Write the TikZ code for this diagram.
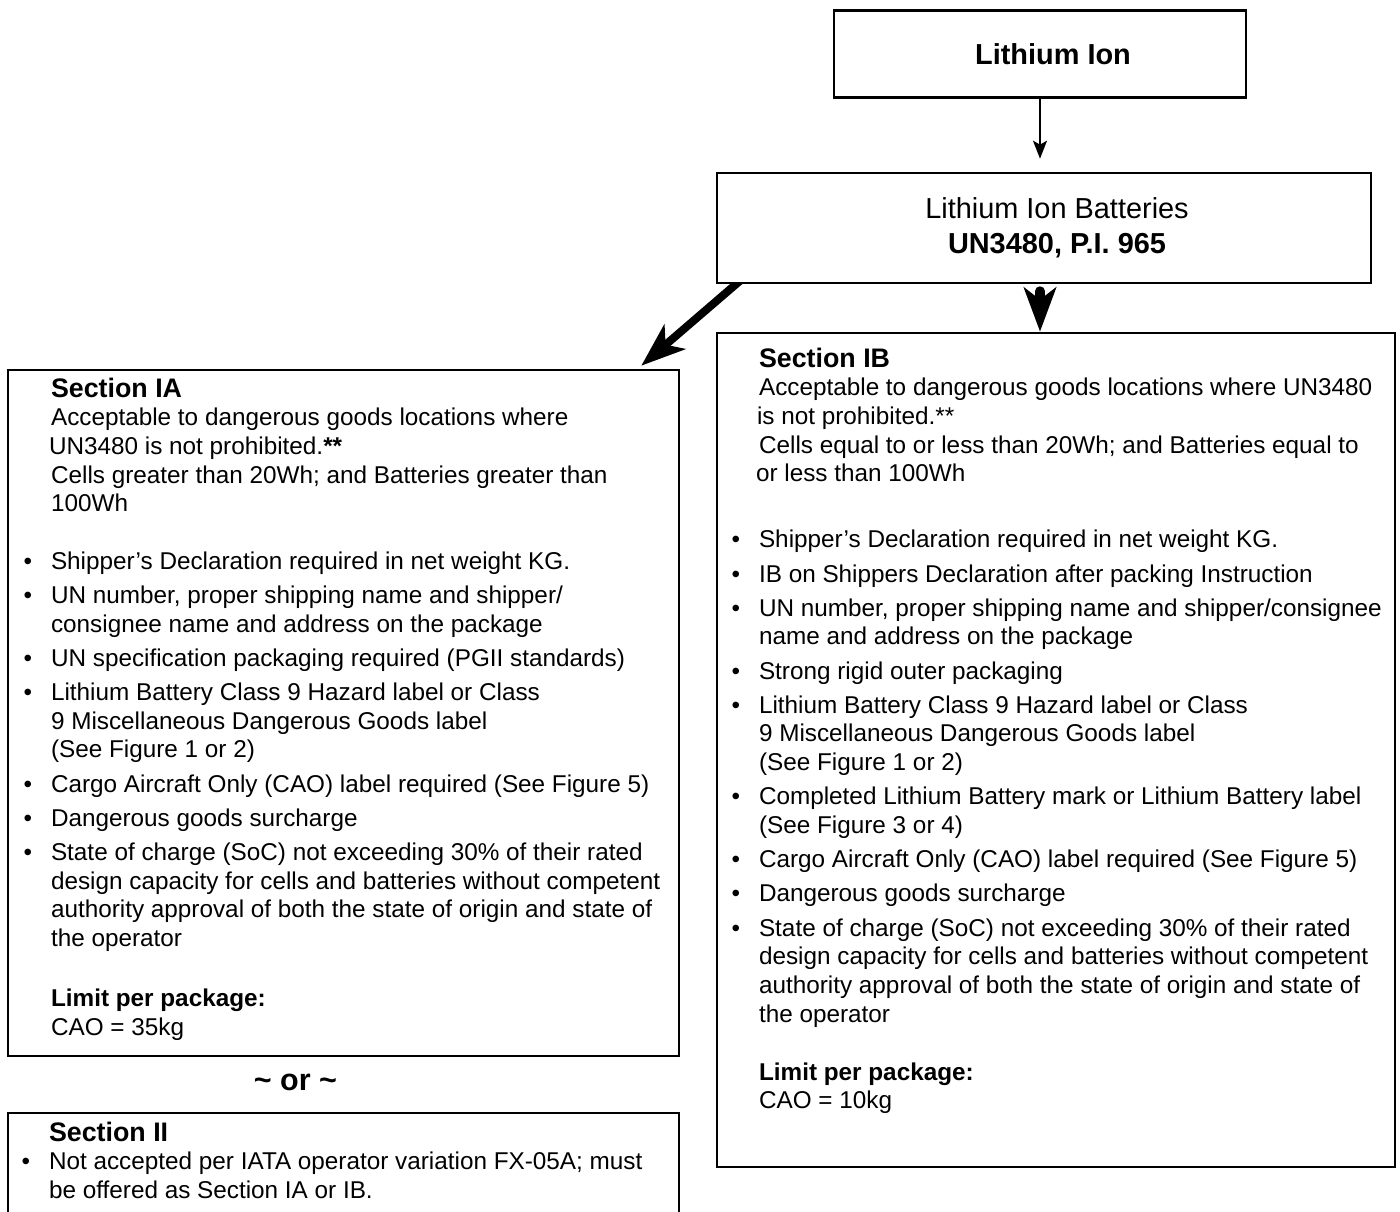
\documentclass[tikz,border=0pt]{standalone}
\usepackage{fontspec}
\setmainfont{Liberation Sans}
\usetikzlibrary{arrows.meta,positioning,backgrounds}

\newlength{\pxu}\setlength{\pxu}{0.02cm}
\newcommand{\bul}{\llap{\textbullet\hspace{19\pxu}}}
\newcommand{\sechead}[1]{{\fontsize{15.25}{16.33}\selectfont\bfseries #1}}

\begin{document}
\begin{tikzpicture}[
    %---- GLOBAL STYLE TWEAKS ----
    x=0.02cm, y=-0.02cm,                          % pixel grid, y downwards
    box/.style   = {draw=black, line width=2.6\pxu, fill=white, inner sep=0pt},
    title/.style = {font=\fontsize{16.45}{19.92}\selectfont, align=center, inner sep=0pt},
    body/.style  = {font=\fontsize{13.83}{16.33}\selectfont, align=left, inner sep=0pt},
    thinarrow/.style = {-{Stealth[length=0.36cm, width=0.28cm, inset=0.08cm]}, line width=2\pxu},
    fatarrow/.style  = {-{Stealth[length=0.88cm, width=0.64cm, inset=0.24cm]}, line width=10\pxu},
]
\useasboundingbox (0,0) rectangle (1400,1212);

%---- TOP BOXES ----
\node (ion)      [box, minimum width=412\pxu, minimum height=87\pxu] at (1040,54) {};
\node (ion-txt)  [title] at ([xshift=13\pxu]ion.center) {\bfseries Lithium Ion};

\node (batt)     [box, minimum width=654\pxu, minimum height=110\pxu] at (1044,228) {};
\node (batt-txt) [title] at ([xshift=13\pxu]batt.center) {Lithium Ion Batteries\\\textbf{UN3480, P.I. 965}};

%---- SECTION IA ----
\node (secia)    [box, minimum width=671\pxu, minimum height=686\pxu] at (343.5,713) {};
\node (secia-txt) [body, below right=4\pxu and 44\pxu of secia.north west] {%
  \rule{0pt}{24\pxu}\sechead{Section IA}\\
  Acceptable to dangerous goods locations where\\
  \hspace*{-2\pxu}UN3480 is not prohibited.\textbf{**}\\
  Cells greater than 20Wh; and Batteries greater than\\
  100Wh\\[28.8\pxu]
  \bul Shipper’s Declaration required in net weight KG.\\[5.5\pxu]
  \bul UN number, proper shipping name and shipper/\\
  consignee name and address on the package\\[5.5\pxu]
  \bul UN specification packaging required (PGII standards)\\[5.5\pxu]
  \bul Lithium Battery Class 9 Hazard label or Class\\
  9 Miscellaneous Dangerous Goods label\\
  (See Figure 1 or 2)\\[5.5\pxu]
  \bul Cargo Aircraft Only (CAO) label required (See Figure 5)\\[5.5\pxu]
  \bul Dangerous goods surcharge\\[5.5\pxu]
  \bul State of charge (SoC) not exceeding 30\% of their rated\\
  design capacity for cells and batteries without competent\\
  authority approval of both the state of origin and state of\\
  the operator\\[31.3\pxu]
  \textbf{Limit per package:}\\
  CAO = 35kg};

\node (or) [font=\fontsize{17.36}{20}\selectfont\bfseries, anchor=base] at (295.5,1090)
  {\textasciitilde{} or \textasciitilde};

%---- SECTION II ----
\node (secii)    [box, minimum width=671\pxu, minimum height=120\pxu] at (343.5,1173) {};
\node (secii-txt) [body, below right=5\pxu and 42\pxu of secii.north west] {%
  \rule{0pt}{24\pxu}\sechead{Section II}\\
  \bul Not accepted per IATA operator variation FX-05A; must\\
  be offered as Section IA or IB.};

%---- SECTION IB ----
\node (secib)    [box, minimum width=678\pxu, minimum height=834\pxu] at (1056,750) {};
\node (secib-txt) [body, below right=11\pxu and 43\pxu of secib.north west] {%
  \rule{0pt}{24\pxu}\sechead{Section IB}\\
  Acceptable to dangerous goods locations where UN3480\\
  \hspace*{-2\pxu}is not prohibited.**\\
  Cells equal to or less than 20Wh; and Batteries equal to\\
  \hspace*{-3\pxu}or less than 100Wh\\[37.3\pxu]
  \bul Shipper’s Declaration required in net weight KG.\\[5.5\pxu]
  \bul IB on Shippers Declaration after packing Instruction\\[5.5\pxu]
  \bul UN number, proper shipping name and shipper/consignee\\
  name and address on the package\\[5.5\pxu]
  \bul Strong rigid outer packaging\\[5.5\pxu]
  \bul Lithium Battery Class 9 Hazard label or Class\\
  9 Miscellaneous Dangerous Goods label\\
  (See Figure 1 or 2)\\[5.5\pxu]
  \bul Completed Lithium Battery mark or Lithium Battery label\\
  (See Figure 3 or 4)\\[5.5\pxu]
  \bul Cargo Aircraft Only (CAO) label required (See Figure 5)\\[5.5\pxu]
  \bul Dangerous goods surcharge\\[5.5\pxu]
  \bul State of charge (SoC) not exceeding 30\% of their rated\\
  design capacity for cells and batteries without competent\\
  authority approval of both the state of origin and state of\\
  the operator\\[29.3\pxu]
  \textbf{Limit per package:}\\
  CAO = 10kg};

%---- ARROWS ----
\begin{scope}[on background layer]
  \draw[thinarrow, shorten >=0.26cm] (ion) -- (ion |- batt.north);
  \draw[fatarrow, line cap=round, shorten <=0.14cm] (ion |- batt.south) -- (ion |- secib.north);
  \draw[fatarrow, line width=8\pxu] ([xshift=26\pxu,yshift=5\pxu]batt.south west)
    -- ([xshift=-39\pxu,yshift=3\pxu]secia.north east);
\end{scope}
\end{tikzpicture}
\end{document}
